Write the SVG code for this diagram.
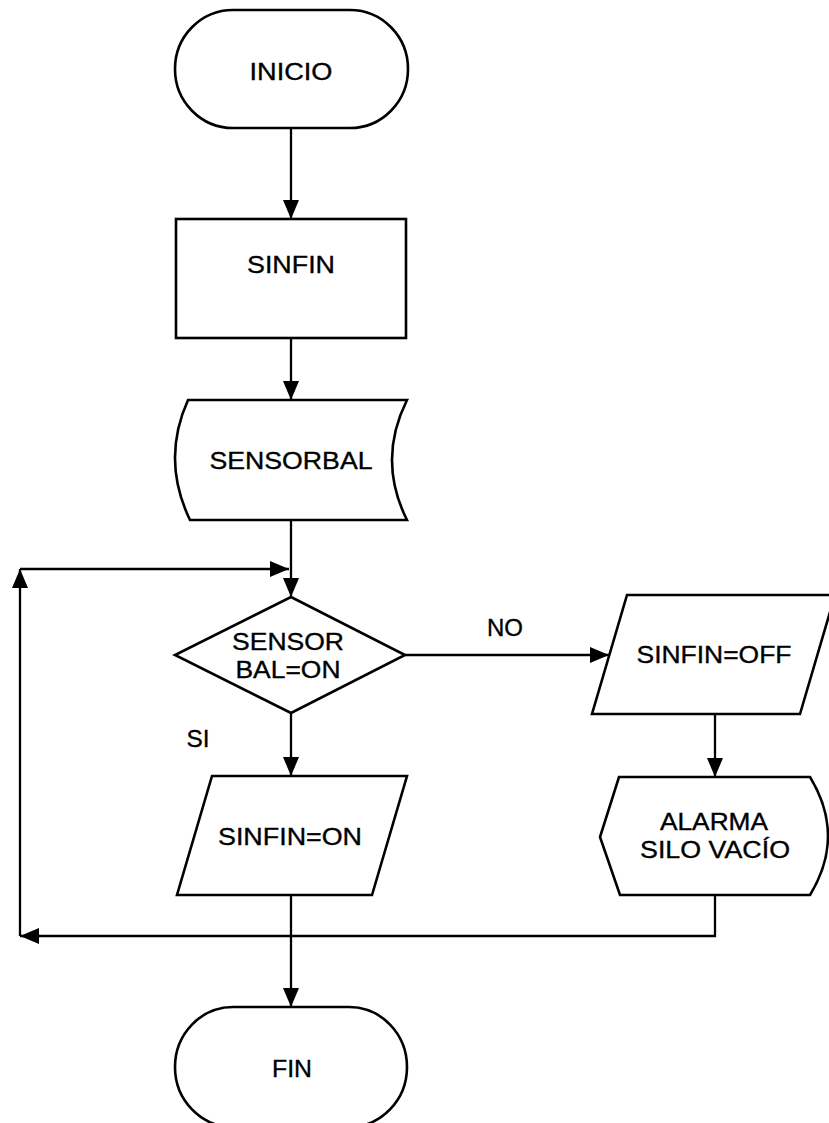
<svg xmlns="http://www.w3.org/2000/svg" width="829" height="1123" viewBox="0 0 829 1123">
<defs>
<marker id="ah" markerUnits="userSpaceOnUse" markerWidth="20" markerHeight="16" refX="19" refY="8" orient="auto">
<path d="M0,0 L19,8 L0,16 Z" fill="#000"/>
</marker>
</defs>
<style>
.s{fill:#fff;stroke:#000;stroke-width:2.6;stroke-linejoin:miter}
.c{fill:none;stroke:#000;stroke-width:2.3}
.t{font-family:"Liberation Sans",Arial,sans-serif;font-size:24px;fill:#000;stroke:#000;stroke-width:0.35;text-anchor:middle}
</style>
<rect width="829" height="1123" fill="#fff"/>
<g id="connectors">
<line class="c" x1="291" y1="128" x2="291" y2="219" marker-end="url(#ah)"/>
<line class="c" x1="291" y1="338" x2="291" y2="400" marker-end="url(#ah)"/>
<line class="c" x1="291" y1="520" x2="291" y2="597" marker-end="url(#ah)"/>
<line class="c" x1="405" y1="655" x2="609" y2="655" marker-end="url(#ah)"/>
<line class="c" x1="715" y1="714" x2="715" y2="777" marker-end="url(#ah)"/>
<line class="c" x1="291" y1="713" x2="291" y2="776" marker-end="url(#ah)"/>
<line class="c" x1="291" y1="895" x2="291" y2="1007" marker-end="url(#ah)"/>
<polyline class="c" points="715,895 715,936 20,936" marker-end="url(#ah)"/>
<line class="c" x1="20" y1="936" x2="20" y2="569" marker-end="url(#ah)"/>
<line class="c" x1="20" y1="569" x2="289" y2="569" marker-end="url(#ah)"/>
</g>
<g id="inicio">
<rect class="s" x="175" y="10" width="233" height="118" rx="58" ry="59"/>
<text class="t" x="291" y="80" textLength="83" lengthAdjust="spacingAndGlyphs">INICIO</text>
</g>
<g id="sinfin">
<rect class="s" x="176" y="219" width="230" height="119"/>
<text class="t" x="291" y="273" textLength="88" lengthAdjust="spacingAndGlyphs">SINFIN</text>
</g>
<g id="sensorbal">
<path class="s" d="M188,400 L407,400 Q377,460 407,520 L190,520 Q161,460 188,400 Z"/>
<text class="t" x="291" y="469" textLength="163" lengthAdjust="spacingAndGlyphs">SENSORBAL</text>
</g>
<g id="decision">
<polygon class="s" points="291,597 405,655 291,713 175,655"/>
<text class="t" x="288" y="650" textLength="112" lengthAdjust="spacingAndGlyphs">SENSOR</text>
<text class="t" x="288" y="678" textLength="105" lengthAdjust="spacingAndGlyphs">BAL=ON</text>
</g>
<g id="label-no">
<text class="t" x="505" y="636">NO</text>
</g>
<g id="label-si">
<text class="t" x="198" y="747" textLength="23" lengthAdjust="spacingAndGlyphs">SI</text>
</g>
<g id="sinfin-off">
<polygon class="s" points="627,595 835,595 800,714 592,714"/>
<text class="t" x="714" y="663" textLength="155" lengthAdjust="spacingAndGlyphs">SINFIN=OFF</text>
</g>
<g id="alarma">
<path class="s" d="M619,777 L810,777 Q846,836 810,895 L620,895 L600,837 Z"/>
<text class="t" x="714" y="830" textLength="108" lengthAdjust="spacingAndGlyphs">ALARMA</text>
<text class="t" x="715" y="858" textLength="150" lengthAdjust="spacingAndGlyphs">SILO VACÍO</text>
</g>
<g id="sinfin-on">
<polygon class="s" points="212,776 407,776 372,895 177,895"/>
<text class="t" x="290" y="845" textLength="144" lengthAdjust="spacingAndGlyphs">SINFIN=ON</text>
</g>
<g id="fin">
<rect class="s" x="175" y="1007" width="232" height="120" rx="58" ry="60"/>
<text class="t" x="292" y="1077" textLength="40" lengthAdjust="spacingAndGlyphs">FIN</text>
</g>
</svg>
